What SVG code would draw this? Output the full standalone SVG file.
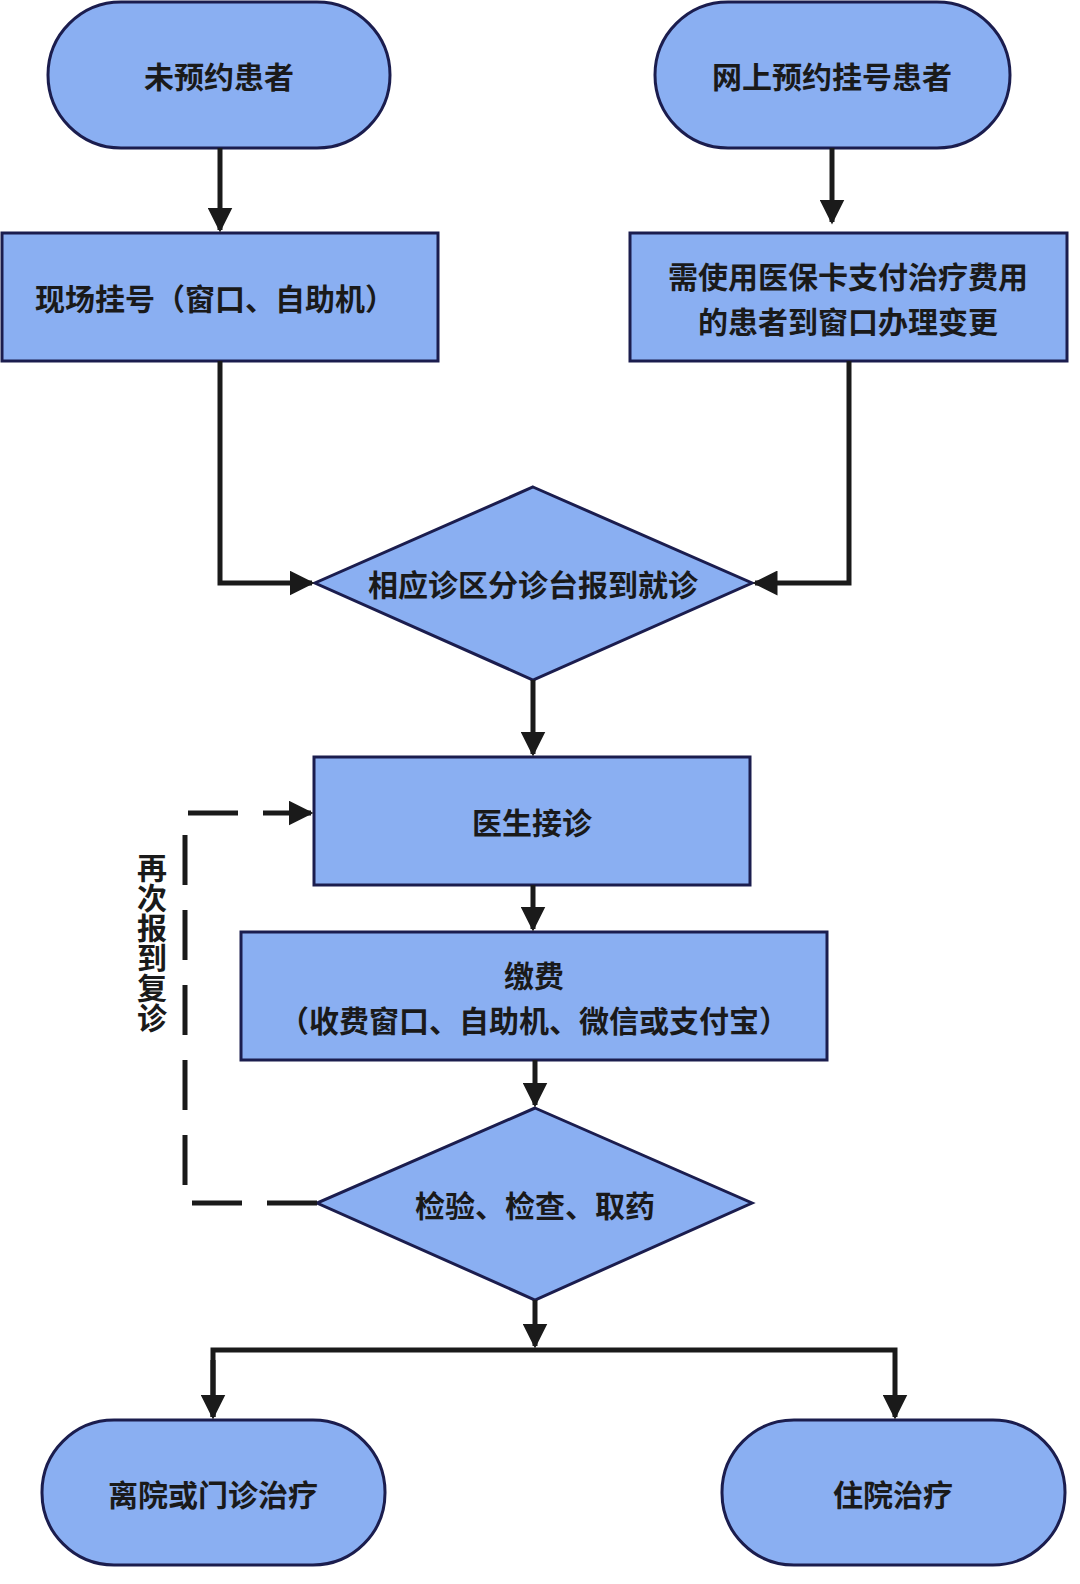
<svg xmlns="http://www.w3.org/2000/svg" width="1080" height="1584" viewBox="0 0 1080 1584">
<defs>
<style>
.n{fill:#8AAFF2;stroke:#1b1d4e;stroke-width:3}
.t{font-family:"Noto Sans CJK SC","Liberation Sans",sans-serif;font-weight:bold;font-size:30px;fill:#1a1a1a;text-anchor:middle;dominant-baseline:central}
.c{fill:none;stroke:#1a1a1a;stroke-width:5}
</style>
<marker id="a" viewBox="0 0 10 10" refX="9" refY="5" markerWidth="5" markerHeight="5" orient="auto" markerUnits="strokeWidth"><path d="M0,0L10,5L0,10z" fill="#1a1a1a"/></marker>
</defs>
<rect width="1080" height="1584" fill="#fff"/>
<g id="n1"><rect class="n" x="48" y="2" width="342" height="146" rx="73"/><text class="t" x="219" y="75">未预约患者</text></g>
<g id="n2"><rect class="n" x="655" y="2" width="355" height="146" rx="73"/><text class="t" x="832" y="75">网上预约挂号患者</text></g>
<g id="n3"><rect class="n" x="2" y="233" width="436" height="128"/><text class="t" x="215" y="297">现场挂号（窗口、自助机）</text></g>
<g id="n4"><rect class="n" x="630" y="233" width="437" height="128"/><text class="t" x="848" y="275">需使用医保卡支付治疗费用</text><text class="t" x="848" y="320">的患者到窗口办理变更</text></g>
<g id="n5"><polygon class="n" points="533,487 752,583 533,680 315,583"/><text class="t" x="533" y="583">相应诊区分诊台报到就诊</text></g>
<g id="n6"><rect class="n" x="314" y="757" width="436" height="128"/><text class="t" x="532" y="821">医生接诊</text></g>
<g id="n7"><rect class="n" x="241" y="932" width="586" height="128"/><text class="t" x="534" y="974">缴费</text><text class="t" x="534" y="1019">（收费窗口、自助机、微信或支付宝）</text></g>
<g id="n8"><polygon class="n" points="535,1108 752,1203 535,1300 317,1203"/><text class="t" x="535" y="1204">检验、检查、取药</text></g>
<g id="n9"><rect class="n" x="42" y="1420" width="343" height="145" rx="72"/><text class="t" x="213" y="1493">离院或门诊治疗</text></g>
<g id="n10"><rect class="n" x="722" y="1420" width="343" height="145" rx="72"/><text class="t" x="893" y="1493">住院治疗</text></g>
<g id="connectors">
<path class="c" d="M220,148V230" marker-end="url(#a)"/>
<path class="c" d="M832,148V222" marker-end="url(#a)"/>
<path class="c" d="M220,361V583H312" marker-end="url(#a)"/>
<path class="c" d="M849,361V583H755" marker-end="url(#a)"/>
<path class="c" d="M533,680V754" marker-end="url(#a)"/>
<path class="c" d="M533,885V929" marker-end="url(#a)"/>
<path class="c" d="M535,1060V1105" marker-end="url(#a)"/>
<path class="c" d="M535,1300V1346" marker-end="url(#a)"/>
<path class="c" d="M213,1417V1350H895V1417" marker-end="url(#a)"/>
<path class="c" d="M213,1360V1417" marker-end="url(#a)"/>
<path class="c" d="M317,1203H185V813H311" stroke-dasharray="50,25" marker-end="url(#a)"/>
<text class="t" x="152" y="943" writing-mode="tb" style="writing-mode:vertical-rl" transform="" >再次报到复诊</text>
</g>
</svg>
